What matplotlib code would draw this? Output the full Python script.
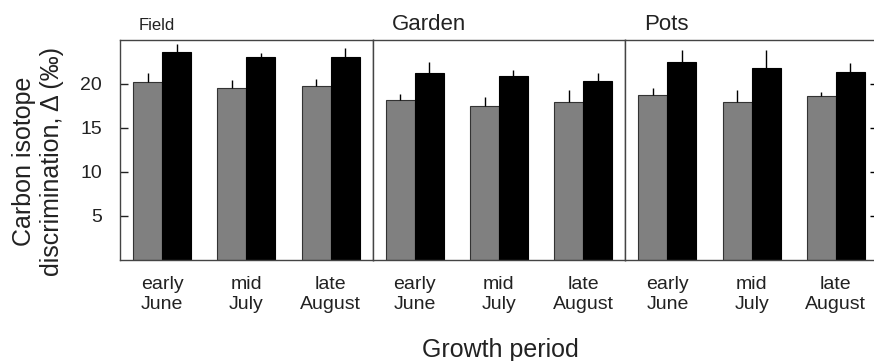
import numpy as np
import matplotlib
matplotlib.use('Agg')
import matplotlib.pyplot as plt

plt.rcParams['font.family'] = ['Liberation Sans', 'DejaVu Sans']

sites = ['Field', 'Garden', 'Pots']
periods = ['early\nJune', 'mid\nJuly', 'late\nAugust']

# grey bars (first series) and black bars (second series), one row per site
grey_vals = [[20.2, 19.6, 19.8],
             [18.2, 17.5, 17.9],
             [18.7, 18.0, 18.6]]
grey_err = [[1.0, 0.8, 0.75],
            [0.65, 1.0, 1.4],
            [0.8, 1.3, 0.45]]
black_vals = [[23.6, 23.1, 23.1],
              [21.3, 20.9, 20.3],
              [22.5, 21.8, 21.4]]
black_err = [[0.9, 0.45, 0.95],
             [1.2, 0.7, 0.9],
             [1.4, 2.1, 1.0]]

yticks = [5, 10, 15, 20]


def panel(ax, i):
    x = np.arange(1, len(periods) + 1)
    w = 0.344
    ax.bar(x - w / 2, grey_vals[i], w, color='#808080', edgecolor='#333333', linewidth=0.8, zorder=2)
    ax.bar(x + w / 2, black_vals[i], w, color='black', edgecolor='black', linewidth=0.8, zorder=2)
    ax.errorbar(x - w / 2, grey_vals[i], yerr=[np.zeros(3), grey_err[i]], fmt='none',
                ecolor='black', elinewidth=1, capsize=0, zorder=3)
    ax.errorbar(x + w / 2, black_vals[i], yerr=[np.zeros(3), black_err[i]], fmt='none',
                ecolor='black', elinewidth=1, capsize=0, zorder=3)
    ax.set_xlim(0.5, 3.5)
    ax.set_ylim(0, 25)
    ax.set_xticks(x)
    ax.set_xticklabels(periods, linespacing=1.25)
    ax.tick_params(axis='x', length=0, pad=11.5, labelsize=14, colors='#222222')
    ax.set_yticks(yticks)
    for s in ax.spines.values():
        s.set_linewidth(1.0)
        s.set_color('#444444')
    size = 12 if i == 0 else 16
    ax.text(0.075, 1.045, sites[i], transform=ax.transAxes, fontsize=size,
            va='baseline', ha='left', color='#222222')


fig = plt.figure(figsize=(8.74, 3.61), dpi=100)
left = 120 / 874
width = (878 - 120) / 3 / 874
bottom = 1 - 260 / 361
height = 220 / 361

axes = []
for i in range(3):
    ax = fig.add_axes([left + i * width, bottom, width, height])
    panel(ax, i)
    axes.append(ax)

axes[0].tick_params(axis='y', direction='in', length=6, width=1, pad=13,
                    labelsize=14, colors='#222222')
axes[1].tick_params(axis='y', left=False, labelleft=False)
axes[2].tick_params(axis='y', left=False, labelleft=False, right=True,
                    direction='in', length=6, width=1)

fig.text(38 / 874, 1 - 161 / 361, 'Carbon isotope\ndiscrimination, \u0394 (\u2030)',
         rotation=90, ha='center', va='center', multialignment='center',
         fontsize=18, color='#222222')
fig.text(500 / 874, 1 - 357 / 361, 'Growth period', ha='center', va='baseline',
         fontsize=18, color='#222222')

fig.savefig('out.png', dpi=100)
